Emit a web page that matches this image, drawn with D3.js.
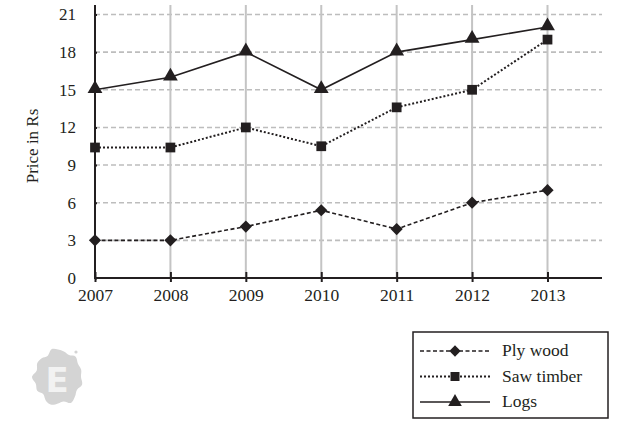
<!DOCTYPE html>
<html><head><meta charset="utf-8">
<script src="https://cdn.jsdelivr.net/npm/d3@7"></script>
<style>body{margin:0;background:#fff;}</style>
</head><body><svg id="c" width="617" height="424"></svg>
<script>
const years = [2007, 2008, 2009, 2010, 2011, 2012, 2013];
const plyWood = [3, 3, 4.1, 5.4, 3.9, 6, 7];
const sawTimber = [10.4, 10.4, 12, 10.5, 13.6, 15, 19];
const logs = [15, 16, 18, 15, 18, 19, 20];
const yTicks = [0, 3, 6, 9, 12, 15, 18, 21];
const seriesNames = ["Ply wood", "Saw timber", "Logs"];

const serif = "'Liberation Serif','Times New Roman',serif";
const svg = d3.select("#c");
const x = d3.scaleLinear().domain([2007, 2013]).range([95, 547.5]);
const y = d3.scaleLinear().domain([0, 21]).range([278, 14.5]);
const xEnd = 602, yTop = 5;
const ink = "#231f20";

// horizontal dashed gridlines
svg.append("g").selectAll("line").data(yTicks.filter(d => d > 0)).join("line")
  .attr("x1", 95).attr("x2", xEnd).attr("y1", d => y(d)).attr("y2", d => y(d))
  .attr("stroke", "#bdbdbd").attr("stroke-width", 1.6).attr("stroke-dasharray", "5,3");
// vertical gridlines
svg.append("g").selectAll("line").data(years.slice(1)).join("line")
  .attr("x1", d => x(d)).attr("x2", d => x(d)).attr("y1", yTop).attr("y2", 278)
  .attr("stroke", "#c4c4c4").attr("stroke-width", 2);

// y axis
const yAxis = svg.append("g").attr("transform", "translate(95,0)")
  .call(d3.axisLeft(y).tickValues(yTicks).tickSize(13).tickPadding(6).tickFormat(d3.format("d")));
yAxis.select(".domain").remove();
yAxis.selectAll(".tick line").attr("stroke", ink).attr("stroke-width", 2).attr("x2", 2);
yAxis.selectAll(".tick text").style("font-family", serif).style("font-size", "17px").attr("fill", ink).attr("x", -19);
svg.append("line").attr("x1", 95).attr("x2", 95).attr("y1", yTop).attr("y2", 279)
  .attr("stroke", ink).attr("stroke-width", 2);

// x axis
const xAxis = svg.append("g").attr("transform", "translate(0,278)")
  .call(d3.axisBottom(x).tickValues(years).tickSize(4).tickPadding(6).tickFormat(d3.format("d")));
xAxis.select(".domain").remove();
xAxis.selectAll(".tick line").attr("stroke", ink).attr("stroke-width", 2).attr("y1", -6);
xAxis.selectAll(".tick text").style("font-family", serif).style("font-size", "17.5px").attr("fill", ink).attr("dy", "0.72em");
svg.append("line").attr("x1", 94).attr("x2", xEnd).attr("y1", 278).attr("y2", 278)
  .attr("stroke", ink).attr("stroke-width", 2);

// y label
svg.append("text").attr("transform", "translate(38,146) rotate(-90)")
  .attr("text-anchor", "middle").style("font-family", serif).style("font-size", "17px")
  .attr("fill", ink).text("Price in Rs");

const styles = [
  {data: plyWood, dash: "4,2.5", width: 1.6, sym: d3.symbolDiamond2, size: 95},
  {data: sawTimber, dash: "2,2", width: 2, sym: d3.symbolSquare, size: 95},
  {data: logs, dash: null, width: 1.6, sym: d3.symbolTriangle, size: 95}
];
const line = d3.line().x((d, i) => x(years[i])).y(d => y(d));
styles.forEach(s => {
  svg.append("path").attr("d", line(s.data)).attr("fill", "none")
    .attr("stroke", ink).attr("stroke-width", s.width).attr("stroke-dasharray", s.dash);
  svg.append("g").selectAll("path").data(s.data).join("path")
    .attr("d", d3.symbol().type(s.sym).size(s.size))
    .attr("transform", (d, i) => `translate(${x(years[i])},${y(d) - (s.sym === d3.symbolTriangle ? 1 : 0)})`)
    .attr("fill", ink);
});

// legend
const lg = svg.append("g");
lg.append("rect").attr("x", 413).attr("y", 332).attr("width", 195).attr("height", 86)
  .attr("fill", "#fff").attr("stroke", ink).attr("stroke-width", 1.5);
seriesNames.forEach((n, i) => {
  const ly = 351 + i * 25.5;
  const s = styles[i];
  lg.append("line").attr("x1", 420).attr("x2", 490).attr("y1", ly).attr("y2", ly)
    .attr("stroke", ink).attr("stroke-width", s.width).attr("stroke-dasharray", s.dash);
  lg.append("path").attr("d", d3.symbol().type(s.sym).size(s.size * 0.85))
    .attr("transform", `translate(455,${ly})`).attr("fill", ink);
  lg.append("text").attr("x", 502).attr("y", ly + 5).style("font-family", serif)
    .style("font-size", "17.5px").attr("fill", ink).text(n);
});

// watermark
const wm = svg.append("g");
const jitter = [0, 2, -1, 1, 3, -1, 0, 2, 1, -2, 1, 0, 3, -1, 1, 0, -2, 2, 1, 0, -1, 2, 0, 1];
const blob = jitter.map((j, k) => {
  const a = k / jitter.length * 2 * Math.PI;
  const r = 23 + j;
  return [58 + r * Math.cos(a), 377 + r * 1.15 * Math.sin(a)];
});
wm.append("path").attr("d", d3.line().curve(d3.curveCardinalClosed)(blob)).attr("fill", "#d4d4d4");
wm.append("circle").attr("cx", 76).attr("cy", 352).attr("r", 1.6).attr("fill", "#d4d4d4");
wm.append("text").attr("x", 57).attr("y", 392).attr("text-anchor", "middle")
  .style("font-family", "'DejaVu Sans',sans-serif").style("font-weight", "bold").style("font-size", "34px")
  .attr("fill", "#f2f2f2").text("E");
</script></body></html>
